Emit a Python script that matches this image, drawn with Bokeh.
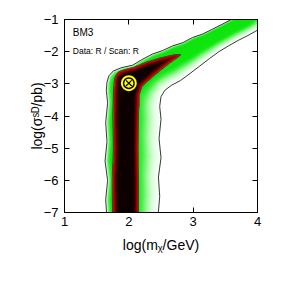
import numpy as np
from bokeh.plotting import figure
from bokeh.models import LinearAxis, FixedTicker, Label, Range1d
from bokeh.embed import file_html
from bokeh.resources import INLINE

# ---- data ----
x_ticks = [1, 2, 3, 4]
y_ticks = [-7, -6, -5, -4, -3, -2, -1]
y_tick_labels = ["\u22127", "\u22126", "\u22125", "\u22124", "\u22123", "\u22122", "\u22121"]
x_title = "log(m\u1d6a/GeV)"
y_title = "log(\u03c3\u02e2\u1d30/pb)"

# outer (95%) contour, upper/left branch
outer_ul_x = [1.66, 1.64, 1.67, 1.63, 1.66, 1.64, 1.67, 1.65, 1.66, 1.69, 1.76, 1.88,
              2.06, 2.2, 2.37, 2.52, 2.68, 2.84, 2.99, 3.15, 3.3, 3.45, 3.61, 3.75]
outer_ul_y = [-7.2, -6.6, -6.0, -5.4, -4.8, -4.2, -3.6, -3.2, -2.95, -2.75, -2.6, -2.5,
              -2.42, -2.25, -2.07, -1.97, -1.82, -1.72, -1.56, -1.45, -1.3, -1.15, -0.98, -0.85]
# outer (95%) contour, lower/right branch
outer_lr_x = [2.45, 2.48, 2.46, 2.50, 2.47, 2.50, 2.48, 2.50, 2.56, 2.66, 2.8, 2.95,
              3.1, 3.25, 3.4, 3.55, 3.7, 3.85, 4.0, 4.15]
outer_lr_y = [-7.2, -6.5, -5.9, -5.3, -4.7, -4.1, -3.7, -3.4, -3.2, -3.05, -2.9, -2.68,
              -2.45, -2.22, -2.0, -1.82, -1.65, -1.5, -1.33, -1.15]
# inner (68%) contour
inner_x = [1.75, 1.74, 1.76, 1.75, 1.76, 1.77, 1.79, 1.84, 1.93, 2.06, 2.27, 2.48, 2.63,
           2.73, 2.81, 2.76, 2.68, 2.58, 2.48, 2.37, 2.27, 2.2, 2.16, 2.15, 2.14, 2.15, 2.15]
inner_y = [-7.2, -6.0, -5.0, -4.0, -3.3, -2.95, -2.75, -2.63, -2.56, -2.5, -2.33, -2.2, -2.13,
           -2.09, -2.09, -2.18, -2.29, -2.44, -2.6, -2.78, -2.96, -3.1, -3.35, -4.0, -5.0, -6.0, -7.2]
# best fit point
bf_x = [2.0]
bf_y = [-2.98]

# ---- image built from the contours ----
xmin, xmax, ymin, ymax = 1.0, 4.0, -7.0, -1.0
sx, sy = 193 / 3.0, 193 / 6.0
nx = ny = 386
gx = xmin + (np.arange(nx) + 0.5) * (xmax - xmin) / nx
gy = ymin + (np.arange(ny) + 0.5) * (ymax - ymin) / ny
GX, GY = np.meshgrid(gx, gy)
PX, PY = (GX - xmin) * sx, (GY - ymin) * sy


def to_px(xs, ys):
    return list((np.asarray(xs) - xmin) * sx), list((np.asarray(ys) - ymin) * sy)


def dist_polyline(px, py, lx, ly, closed=False):
    d = np.full(px.shape, np.inf)
    n = len(lx)
    m = n if closed else n - 1
    for i in range(m):
        ax, ay = lx[i], ly[i]
        bx, by = lx[(i + 1) % n], ly[(i + 1) % n]
        vx, vy = bx - ax, by - ay
        L2 = vx * vx + vy * vy
        t = np.clip(((px - ax) * vx + (py - ay) * vy) / L2, 0, 1)
        d = np.minimum(d, np.hypot(px - (ax + t * vx), py - (ay + t * vy)))
    return d


def inside(px, py, lx, ly):
    res = np.zeros(px.shape, bool)
    n = len(lx)
    for i in range(n):
        x1, y1 = lx[i], ly[i]
        x2, y2 = lx[(i + 1) % n], ly[(i + 1) % n]
        if y1 == y2:
            continue
        res ^= ((y1 > py) != (y2 > py)) & (px < (x2 - x1) * (py - y1) / (y2 - y1) + x1)
    return res


ulx, uly = to_px(outer_ul_x, outer_ul_y)
lrx, lry = to_px(outer_lr_x, outer_lr_y)
inx, iny = to_px(inner_x, inner_y)
ex, ey = to_px([4.6, 4.6], [-0.85, -1.15])
polx = ulx + ex + lrx[::-1]
poly = uly + ey + lry[::-1]

in_outer = inside(PX, PY, polx, poly)
in_inner = inside(PX, PY, inx, iny)
dU = dist_polyline(PX, PY, ulx, uly)
dL = dist_polyline(PX, PY, lrx, lry)
tt = dU / (dU + dL + 1e-9)
band = np.interp(tt, [0, 0.04, 0.1, 0.55, 0.65, 0.77, 0.88, 1.0],
                 [0.06, 0.3, 0.45, 0.44, 0.36, 0.2, 0.09, 0.04])
dIn = dist_polyline(PX, PY, inx, iny, closed=True)
core = 0.5 + 0.5 * np.clip(dIn / 6.0, 0, 1) ** 0.8
rho = np.where(in_inner, core, np.where(in_outer, band, 0.0))

stops = [0.0, 0.06, 0.15, 0.30, 0.42, 0.4999, 0.5, 0.62, 0.75, 0.88, 1.0]
R = [255, 245, 195, 95, 20, 0, 245, 210, 120, 40, 12]
G = [255, 255, 252, 242, 232, 225, 0, 0, 0, 0, 0]
B = [255, 245, 195, 95, 20, 0, 0, 0, 0, 0, 0]
img = np.empty((ny, nx), dtype=np.uint32)
view = img.view(dtype=np.uint8).reshape((ny, nx, 4))
view[..., 0] = np.interp(rho, stops, R).astype(np.uint8)
view[..., 1] = np.interp(rho, stops, G).astype(np.uint8)
view[..., 2] = np.interp(rho, stops, B).astype(np.uint8)
view[..., 3] = 255

# ---- figure ----
FONT = "Liberation Sans"
p = figure(x_range=Range1d(1, 4), y_range=Range1d(-7, -1),
           frame_width=193, frame_height=193,
           min_border_left=64, min_border_right=12, min_border_top=19, min_border_bottom=52,
           output_backend="svg", toolbar_location=None,
           background_fill_color="white", border_fill_color="white")
p.grid.visible = False
p.outline_line_color = "black"
p.outline_line_width = 1

p.image_rgba(image=[img], x=xmin, y=ymin, dw=xmax - xmin, dh=ymax - ymin)
p.line(outer_ul_x, outer_ul_y, line_color="#222222", line_width=0.9)
p.line(outer_lr_x, outer_lr_y, line_color="#222222", line_width=0.9)
p.patch(inner_x, inner_y, fill_color=None, line_color="#3a3a3a", line_width=0.9)

p.scatter(bf_x, bf_y, marker="circle", size=14, fill_color=None, line_color="#FFFF00", line_width=2)
p.scatter(bf_x, bf_y, marker="circle", size=9, fill_color="#FFFF00", line_color=None)
p.scatter(bf_x, bf_y, marker="x", size=8, line_color="black", line_width=1.2)

for ax in [p.xaxis[0], p.yaxis[0]]:
    ax.major_tick_in = 5
    ax.major_tick_out = 0
    ax.minor_tick_line_color = None
    ax.major_label_text_font = FONT
    ax.major_label_text_font_size = "13px"
    ax.major_label_text_color = "black"
    ax.axis_line_color = "black"
    ax.axis_label_text_font = FONT
    ax.axis_label_text_font_size = "14px"
    ax.axis_label_text_font_style = "normal"
    ax.axis_label_text_color = "black"
p.xaxis[0].ticker = FixedTicker(ticks=x_ticks)
p.xaxis[0].major_label_overrides = {t: str(t) for t in x_ticks}
p.xaxis[0].major_label_standoff = 4
p.xaxis[0].axis_label = x_title
p.xaxis[0].axis_label_standoff = 8
p.yaxis[0].ticker = FixedTicker(ticks=y_ticks)
p.yaxis[0].major_label_overrides = {t: l for t, l in zip(y_ticks, y_tick_labels)}
p.yaxis[0].major_label_standoff = 6
p.yaxis[0].axis_label = y_title
p.yaxis[0].axis_label_standoff = -4

top = LinearAxis(ticker=FixedTicker(ticks=x_ticks), major_tick_in=5, major_tick_out=0,
                 minor_tick_line_color=None, major_label_overrides={t: "" for t in x_ticks},
                 major_label_standoff=0)
right = LinearAxis(ticker=FixedTicker(ticks=y_ticks), major_tick_in=5, major_tick_out=0,
                   minor_tick_line_color=None, major_label_overrides={t: "" for t in y_ticks},
                   major_label_standoff=0)
p.add_layout(top, "above")
p.add_layout(right, "right")

# texts inside the frame
p.add_layout(Label(x=1.129, y=-1.413, text="BM3", text_font=FONT, text_font_size="10px",
                   text_color="black", text_baseline="alphabetic"))
p.add_layout(Label(x=1.129, y=-1.98, text="Data: R / Scan: R", text_font=FONT,
                   text_font_size="8.5px", text_color="black", text_baseline="alphabetic"))

open("out.html", "w").write(file_html(p, INLINE))
